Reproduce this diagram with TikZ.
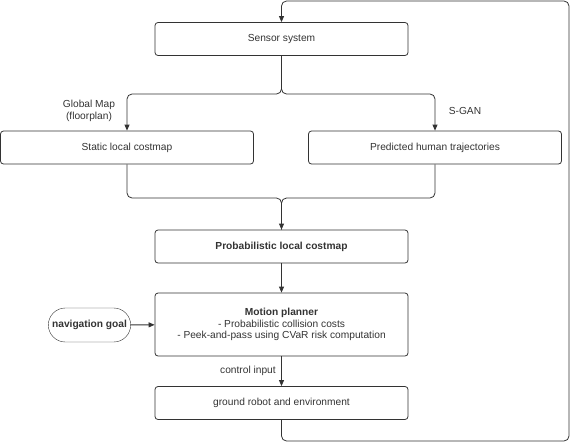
\documentclass[tikz,border=0pt]{standalone}
\usepackage{fontspec}
\setmainfont{Liberation Sans}
\definecolor{lnGray}{HTML}{333333}
\usetikzlibrary{arrows.meta, positioning, shapes.misc}

\begin{document}
\begin{tikzpicture}[x=1pt, y=-1pt,
  box/.style={draw=lnGray, line width=0.8pt, rounded corners=3pt,
              minimum width=253pt, minimum height=33pt, align=center,
              text=lnGray, font=\fontsize{10.2}{11.8}\selectfont},
  goal/.style={draw=lnGray, line width=0.4pt, rounded rectangle,
               minimum width=89pt, minimum height=34pt, text=lnGray,
               font=\fontsize{10.2}{11.8}\selectfont\bfseries},
  lbl/.style={font=\fontsize{10.2}{11.8}\selectfont, align=center, text=lnGray},
  arr/.style={draw=lnGray, line width=0.8pt,
              -{Triangle[length=6pt, width=5pt]}}]
  \useasboundingbox (0,0) rectangle (572,442);
  % boxes
  \node[box] (sensor) at (281.5,39)   {Sensor system};
  \node[box] (static) at (127,147.5)  {Static local costmap};
  \node[box] (pred)   at (435,147.5)  {Predicted human trajectories};
  \node[box] (prob)   at (281.5,246.5) {\bfseries Probabilistic local costmap};
  \node[box, minimum height=63pt] (plan) at (281.5,324.5)
    {\bfseries Motion planner\\ - Probabilistic collision costs\\
     - Peek-and-pass using CVaR risk computation};
  \node[box] (robot)  at (281.5,403)  {ground robot and environment};
  \node[goal] (nav)   at (89.5,325)   {navigation goal};
  % connectors
  \draw[arr, rounded corners=5pt] (sensor.south) |- (200,94) -| (static.north);
  \draw[arr, rounded corners=5pt] (sensor.south) |- (360,94) -| (pred.north);
  \node[lbl] at (89,110.5) {Global Map\\(floorplan)};
  \node[lbl] at (465,111) {S-GAN};
  \draw[rounded corners=5pt, draw=lnGray, line width=0.8pt]
    (static.south) |- (200,198) -| (prob.north);
  \draw[arr, rounded corners=5pt] (pred.south) |- (360,198) -| (prob.north);
  \draw[arr] (prob) -- (plan);
  \draw[arr] (nav) -- (plan);
  \draw[arr] (plan) -- node[lbl, left=2pt] {control input} (robot);
  \draw[arr, rounded corners=5pt] (robot.south) |- (569,441) -- (569,1)
    -| (sensor.north);
\end{tikzpicture}
\end{document}
